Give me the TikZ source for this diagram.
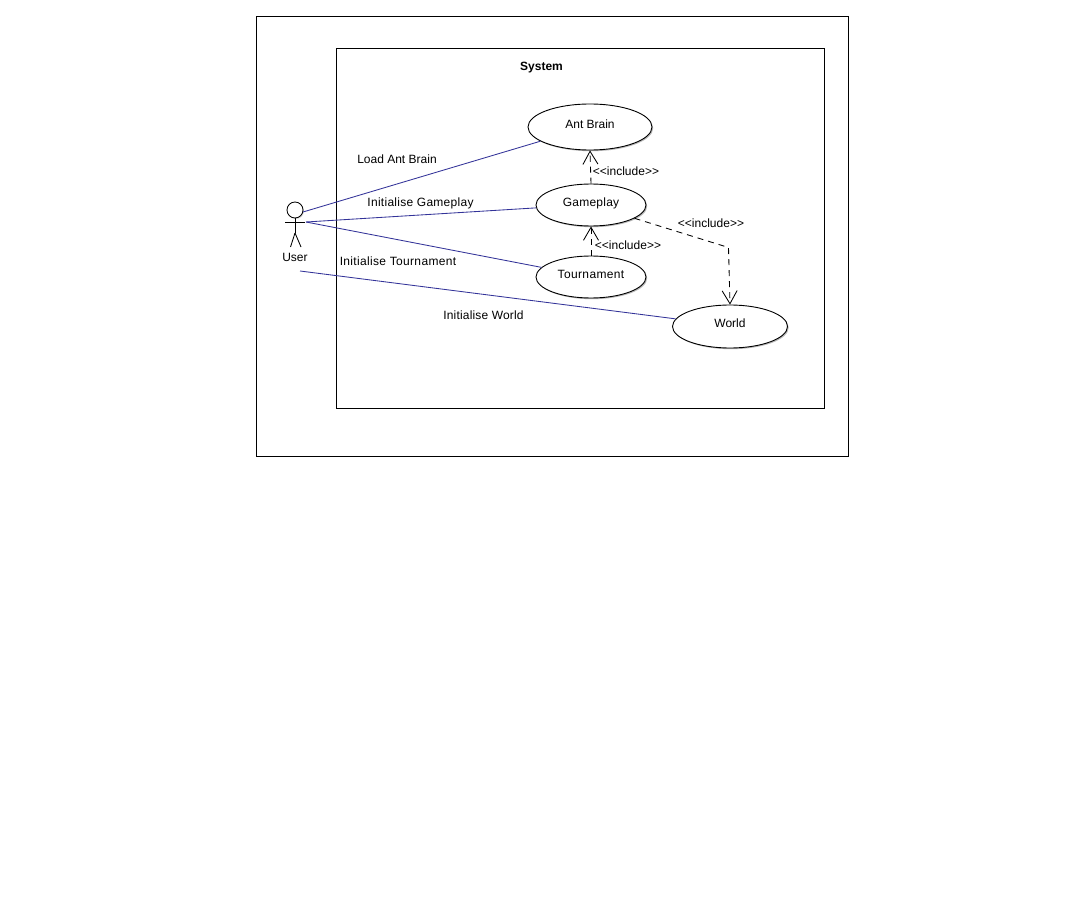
\documentclass[tikz,border=0pt]{standalone}
\usepackage{fontspec}
\setmainfont{Liberation Sans}
\usetikzlibrary{shapes.geometric,arrows.meta,shadows}
\newcommand{\lsp}[1]{\addfontfeatures{LetterSpace=#1}}
\newcommand{\uctext}[2]{\smash{\raisebox{#1}{\fontsize{12}{14}\selectfont #2}}}
\tikzset{
  frame/.style={draw=black,line width=0.8pt},
  usecase/.style={ellipse,draw=black,fill=white,line width=0.9pt,inner sep=0pt,
    drop shadow={shadow xshift=1.2pt,shadow yshift=-1.2pt,fill=black!35,opacity=0.8}},
  assoc/.style={draw=uline,line width=0.85pt},
  incl/.style={draw=black,line width=0.85pt,dash pattern=on 6pt off 5pt,-{Straight Barb[length=13pt,width=15pt,line width=0.85pt]}},
  limb/.style={draw=black,line width=0.85pt},
  lbl/.style={inner sep=0pt,font=\fontsize{12}{14}\selectfont},
}
\definecolor{uline}{HTML}{333399}
\begin{document}
\begin{tikzpicture}[x=1pt,y=-1pt]
\useasboundingbox (0,0) rectangle (1088,920);
\fill[white] (0,0) rectangle (1088,920);
\draw[frame] (256.5,16.5) rectangle (848.5,456.5);
\draw[frame] (336.5,48.5) rectangle (824.5,408.5);
\node[lbl,font=\fontsize{12}{14}\selectfont\bfseries] (sys) at (541.5,67.5) {System};

\node[usecase,minimum width=124pt,minimum height=46pt] (ab) at (590,127) {\uctext{-1.3pt}{Ant Brain}};
\node[usecase,minimum width=110pt,minimum height=42pt] (gp) at (591,205) {\uctext{-1.3pt}{\lsp{2}Gameplay}};
\node[usecase,minimum width=110pt,minimum height=42pt] (tn) at (591,277) {\uctext{-1.3pt}{\lsp{3}Tournament}};
\node[usecase,minimum width=115pt,minimum height=43pt] (wd) at (730,326.5) {\uctext{-0.8pt}{World}};

\node[circle,draw=black,line width=0.85pt,fill=white,minimum size=16pt,inner sep=0pt,
  drop shadow={shadow xshift=1pt,shadow yshift=-1pt,fill=black!30}] (head) at (295,210) {};
\coordinate (hip) at (295,233);
\coordinate (shl) at (285,222);
\coordinate (shr) at (305,222);
\coordinate (legl) at (290.5,247);
\coordinate (legr) at (301,247);
\draw[limb] (head.south) -- (hip);
\draw[limb] (shl) -- (shr);
\draw[limb] (hip) -- (legl);
\draw[limb] (hip) -- (legr);
\node[lbl] (user) at (295,257) {User};

\coordinate (a1) at (303,212);
\coordinate (a2) at (306,222);
\coordinate (a3) at (300,271);
\draw[assoc] (a1) -- (ab.196);
\draw[assoc] (a2) -- (gp.183);
\draw[assoc] (a2) -- (tn.169);
\draw[assoc] (a3) -- (wd.172);

\coordinate (bend) at (728.5,247.5);
\draw[incl] (gp.north) -- (ab.south);
\draw[incl] (tn.north) -- (gp.south);
\draw[incl] (gp.343) -- (bend) -- (wd.north);

\node[lbl] (l1) at (397,159) {Load Ant Brain};
\node[lbl] (l2) at (420.5,203) {\lsp{2.3}Initialise Gameplay};
\node[lbl] (l3) at (398,261) {\lsp{2.8}Initialise Tournament};
\node[lbl] (l4) at (483.5,315) {\lsp{1.5}Initialise World};
\node[lbl] (i1) at (626,171) {{<}{<}include{>}{>}};
\node[lbl] (i2) at (628,245) {{<}{<}include{>}{>}};
\node[lbl] (i3) at (711,223) {{<}{<}include{>}{>}};
\end{tikzpicture}
\end{document}
